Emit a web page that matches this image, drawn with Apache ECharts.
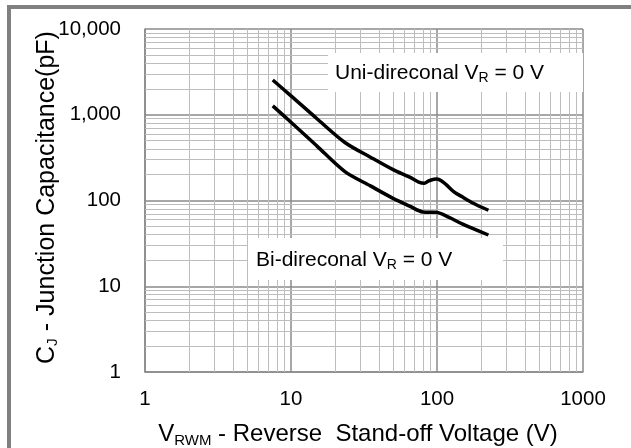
<!DOCTYPE html>
<html>
<head>
<meta charset="utf-8">
<script src="https://cdn.jsdelivr.net/npm/echarts@6/dist/echarts.min.js"></script>
<style>
html,body{margin:0;padding:0;background:#fff;}
#c{width:631px;height:448px;}
</style>
</head>
<body>
<div id="c"></div>
<script>
// Data
var uniVoltage = [7.5, 10, 15, 23.4, 35, 50, 65, 75, 82, 87, 95, 100, 108, 116, 130, 148, 177, 225];
var uniCap     = [2540, 1660, 905, 475, 320, 229, 187, 164, 159, 168, 177, 178, 168, 152, 127, 111, 93, 77];
var biVoltage  = [7.5, 10, 15, 23.4, 35, 50, 65, 80, 90, 98, 120, 150, 225];
var biCap      = [1270, 817, 434, 217, 148, 106, 86, 73.5, 73, 73, 64, 53, 39.6];
var xTickLabels = ['1', '10', '100', '1000'];
var yTickLabels = ['1', '10', '100', '1,000', '10,000'];
var minorMultipliers = [2, 3, 4, 5, 6, 7, 8, 9];
var xDecades = [1, 10, 100];
var yDecades = [1, 10, 100, 1000];

var FONT = "'Liberation Sans', Arial, sans-serif";

function pairs(xs, ys) { return xs.map(function (x, i) { return [x, ys[i]]; }); }
function minorValues(decades) {
  var out = [];
  decades.forEach(function (d) { minorMultipliers.forEach(function (m) { out.push(m * d); }); });
  return out;
}
var minorLineStyle = { color: '#bdbdbd', width: 1, type: 'solid' };
var gridMarks = minorValues(xDecades).map(function (v) { return { xAxis: v }; })
  .concat(minorValues(yDecades).map(function (v) { return { yAxis: v }; }));

var xTitleRich = {
  n: { fontSize: 24, color: '#000', fontFamily: FONT },
  s: { fontSize: 15, color: '#000', fontFamily: FONT, padding: [12, 0, 0, 0] }
};
var yTitleRich = {
  n: { fontSize: 25, color: '#000', fontFamily: FONT },
  s: { fontSize: 15.5, color: '#000', fontFamily: FONT, padding: [12, 0, 0, 0] }
};

var chart = echarts.init(document.getElementById('c'));
chart.setOption({
  backgroundColor: '#fff',
  animation: false,
  textStyle: { fontFamily: FONT },
  grid: { left: 145, right: 48, top: 29, bottom: 76, containLabel: false, outerBoundsMode: 'none' },
  xAxis: {
    type: 'log', logBase: 10, min: 1, max: 1000,
    axisLine: { show: true, lineStyle: { color: '#8a8a8a', width: 1.5 } },
    axisTick: { show: false },
    splitLine: { show: true, lineStyle: { color: '#8a8a8a', width: 1.5 } },
    axisLabel: {
      fontSize: 20.5, color: '#000', margin: 17, fontFamily: FONT,
      formatter: function (v) { var i = Math.round(Math.log10(v)); return xTickLabels[i]; }
    },
    name: '{n|V}{s|RWM}{n| - Reverse  Stand-off Voltage (V)}',
    nameLocation: 'middle', nameGap: 49, nameMoveOverlap: false,
    nameTextStyle: { color: '#000', fontFamily: FONT, rich: xTitleRich, padding: [0, 12, 0, 0] }
  },
  yAxis: {
    type: 'log', logBase: 10, min: 1, max: 10000,
    axisLine: { show: true, lineStyle: { color: '#8a8a8a', width: 1.5 } },
    axisTick: { show: false },
    splitLine: { show: true, lineStyle: { color: '#8a8a8a', width: 1.5 } },
    axisLabel: {
      fontSize: 20.5, color: '#000', margin: 24, fontFamily: FONT,
      formatter: function (v) { var i = Math.round(Math.log10(v)); return yTickLabels[i]; }
    },
    name: '{n|C}{s|J}{n| - Junction Capacitance(pF)}',
    nameLocation: 'middle', nameGap: 84, nameRotate: 90, nameMoveOverlap: false,
    nameTextStyle: { color: '#000', fontFamily: FONT, rich: yTitleRich, padding: [0, 0, 0, 6] }
  },
  series: [
    {
      type: 'line', data: [], silent: true, z: 1,
      markLine: {
        silent: true, symbol: 'none', label: { show: false },
        lineStyle: minorLineStyle, emphasis: { disabled: true },
        animation: false,
        data: gridMarks
      }
    },
    {
      name: 'Uni', type: 'line', data: pairs(uniVoltage, uniCap), z: 10,
      showSymbol: false, smooth: 0.3, silent: true,
      lineStyle: { color: '#000', width: 3.5 }
    },
    {
      name: 'Bi', type: 'line', data: pairs(biVoltage, biCap), z: 10,
      showSymbol: false, smooth: 0.3, silent: true,
      lineStyle: { color: '#000', width: 3.5 }
    }
  ],
  graphic: [
    { type: 'rect', z: 100, silent: true, shape: { x: 9, y: 7, width: 800, height: 600 },
      style: { fill: null, stroke: '#808080', lineWidth: 4 } },
    { type: 'rect', z: 100, silent: true, shape: { x: 328, y: 53, width: 255, height: 39 },
      style: { fill: '#fff' } },
    { type: 'text', z: 101, silent: true, x: 335, y: 73,
      style: {
        text: '{n|Uni-direconal V}{s|R}{n| = 0 V}', verticalAlign: 'middle', align: 'left',
        rich: {
          n: { fontSize: 21, fill: '#000', fontFamily: FONT },
          s: { fontSize: 14, fill: '#000', fontFamily: FONT, padding: [11, 0, 0, 0] }
        }
      } },
    { type: 'rect', z: 100, silent: true, shape: { x: 248, y: 238, width: 255, height: 42 },
      style: { fill: '#fff' } },
    { type: 'text', z: 101, silent: true, x: 256, y: 260,
      style: {
        text: '{n|Bi-direconal V}{s|R}{n| = 0 V}', verticalAlign: 'middle', align: 'left',
        rich: {
          n: { fontSize: 21, fill: '#000', fontFamily: FONT },
          s: { fontSize: 14, fill: '#000', fontFamily: FONT, padding: [11, 0, 0, 0] }
        }
      } }
  ]
});
</script>
</body>
</html>
